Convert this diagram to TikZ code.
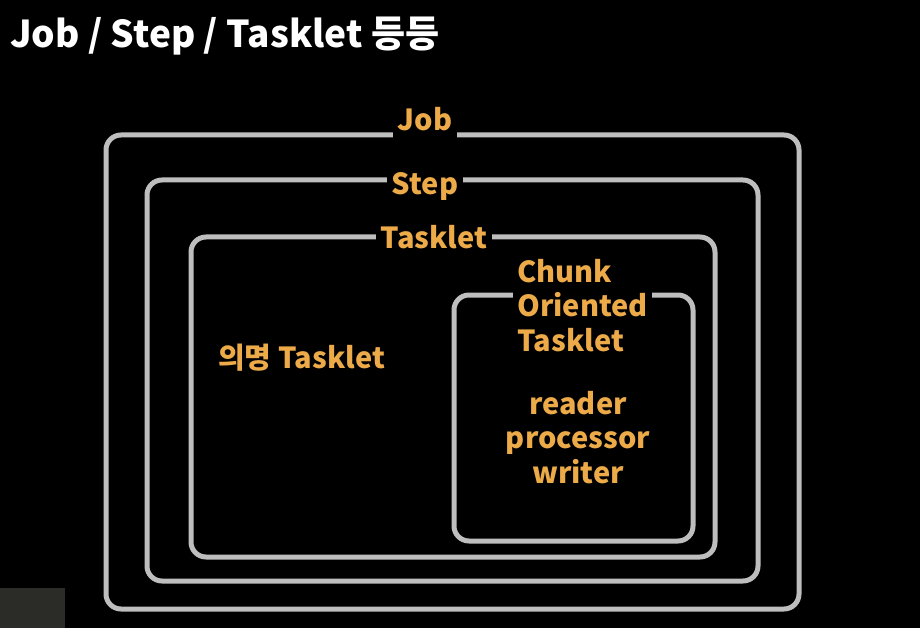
\documentclass[tikz,border=0pt]{standalone}
\usepackage{fontspec}
\setmainfont{Noto Sans CJK KR}
\definecolor{linegray}{HTML}{BEBEBE}
\definecolor{labelorange}{HTML}{ECAA48}
\definecolor{cornergray}{HTML}{2B2B28}
\tikzset{
    frame/.style={draw=linegray, line width=5pt, rounded corners=15pt},
    lbl/.style={text=labelorange, font=\bfseries\fontsize{29}{34.5}\selectfont, inner sep=0pt},
    gaplbl/.style={lbl, fill=black, inner xsep=5pt, text height=24pt, text depth=8pt, anchor=base}
}
\begin{document}
\begin{tikzpicture}[x=1pt, y=-1pt]
    \fill[black] (0,0) rectangle (920,628);
    \fill[cornergray] (0,588) rectangle (65,628);

    \node[anchor=base west, inner sep=0pt, text=white, font=\bfseries\fontsize{37}{44}\selectfont] (title) at (10,48) {Job / Step / Tasklet 등등};

    \draw[frame] (106,135) rectangle (799,609);
    \draw[frame] (147,180) rectangle (758,581);
    \draw[frame] (191,237) rectangle (715,557);
    \draw[frame] (454,295) rectangle (693,541);

    \node[gaplbl] (job) at (425,131) {Job};
    \node[gaplbl] (step) at (425,195) {Step};
    \node[gaplbl] (tasklet) at (434,248) {Tasklet};

    \node[lbl, fill=black, inner xsep=4pt, inner ysep=2pt, align=left, anchor=north west] (chunk) at (513,257) {Chunk\\Oriented\\Tasklet};
    \node[lbl, anchor=base west] (anon) at (218,368) {의명 Tasklet};
    \node[lbl, align=center, anchor=north] (rpw) at (578,391) {reader\\processor\\writer};
\end{tikzpicture}
\end{document}
